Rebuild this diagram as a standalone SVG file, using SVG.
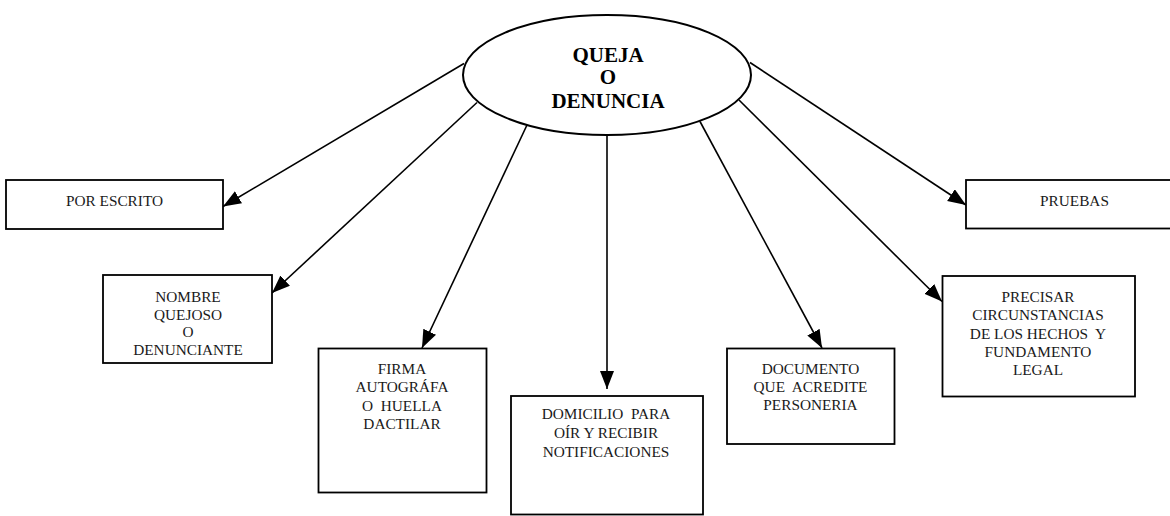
<svg xmlns="http://www.w3.org/2000/svg" width="1170" height="516" viewBox="0 0 1170 516">
<style>
.box{fill:#fff;stroke:#000;stroke-width:1.8}
.t{font-family:"Liberation Serif","Times New Roman",serif;font-size:15.3px;fill:#1a1a1a;text-anchor:middle;white-space:pre}
.tb{font-family:"Liberation Serif","Times New Roman",serif;font-size:21px;font-weight:bold;fill:#000;text-anchor:middle}
.c{stroke:#000;stroke-width:1.6;fill:none}
</style>
<defs>
<marker id="ah" markerUnits="userSpaceOnUse" markerWidth="20" markerHeight="16" refX="18" refY="7" orient="auto">
<path d="M0,0 L18,7 L0,14 z" fill="#000"/>
</marker>
</defs>
<rect width="1170" height="516" fill="#fff"/>
<g id="connectors">
<line class="c" x1="464" y1="63.5" x2="223" y2="206.5" marker-end="url(#ah)"/>
<line class="c" x1="477" y1="102.5" x2="272" y2="293" marker-end="url(#ah)"/>
<line class="c" x1="527" y1="125" x2="422" y2="348" marker-end="url(#ah)"/>
<line class="c" x1="607" y1="135" x2="607" y2="389" marker-end="url(#ah)"/>
<line class="c" x1="700" y1="121.5" x2="822" y2="348" marker-end="url(#ah)"/>
<line class="c" x1="739" y1="100" x2="942" y2="301.5" marker-end="url(#ah)"/>
<line class="c" x1="750" y1="62.5" x2="966" y2="205" marker-end="url(#ah)"/>
</g>
<g id="queja">
<ellipse cx="607" cy="75" rx="144" ry="60" fill="#fff" stroke="#000" stroke-width="2"/>
<text class="tb" x="608" y="62">QUEJA</text>
<text class="tb" x="608" y="84">O</text>
<text class="tb" x="608" y="108">DENUNCIA</text>
</g>
<g id="por-escrito">
<rect class="box" x="6" y="180" width="217" height="49"/>
<text class="t" x="114.5" y="206">POR ESCRITO</text>
</g>
<g id="nombre">
<rect class="box" x="103" y="275" width="169" height="88"/>
<text class="t" x="188" y="302">NOMBRE</text>
<text class="t" x="188" y="319.5">QUEJOSO</text>
<text class="t" x="188" y="337">O</text>
<text class="t" x="188" y="355">DENUNCIANTE</text>
</g>
<g id="firma">
<rect class="box" x="318.5" y="348.5" width="168" height="144"/>
<text class="t" x="402" y="373.5">FIRMA</text>
<text class="t" x="402" y="392">AUTOGRÁFA</text>
<text class="t" x="402" y="410.5">O  HUELLA</text>
<text class="t" x="402" y="429">DACTILAR</text>
</g>
<g id="domicilio">
<rect class="box" x="511" y="396" width="192" height="118.5"/>
<text class="t" x="606" y="418.5">DOMICILIO  PARA</text>
<text class="t" x="606" y="438">OÍR Y RECIBIR</text>
<text class="t" x="606" y="456.5">NOTIFICACIONES</text>
</g>
<g id="documento">
<rect class="box" x="727" y="348.5" width="167.5" height="95.5"/>
<text class="t" x="810.5" y="373.5">DOCUMENTO</text>
<text class="t" x="810.5" y="392">QUE  ACREDITE</text>
<text class="t" x="810.5" y="410">PERSONERIA</text>
</g>
<g id="precisar">
<rect class="box" x="942.5" y="276" width="192.5" height="120.5"/>
<text class="t" x="1038" y="301.5">PRECISAR</text>
<text class="t" x="1038" y="320">CIRCUNSTANCIAS</text>
<text class="t" x="1038" y="338.5">DE LOS HECHOS  Y</text>
<text class="t" x="1038" y="356.5">FUNDAMENTO</text>
<text class="t" x="1038" y="375">LEGAL</text>
</g>
<g id="pruebas">
<rect class="box" x="966" y="180" width="217" height="48.5"/>
<text class="t" x="1074.5" y="206">PRUEBAS</text>
</g>
</svg>
